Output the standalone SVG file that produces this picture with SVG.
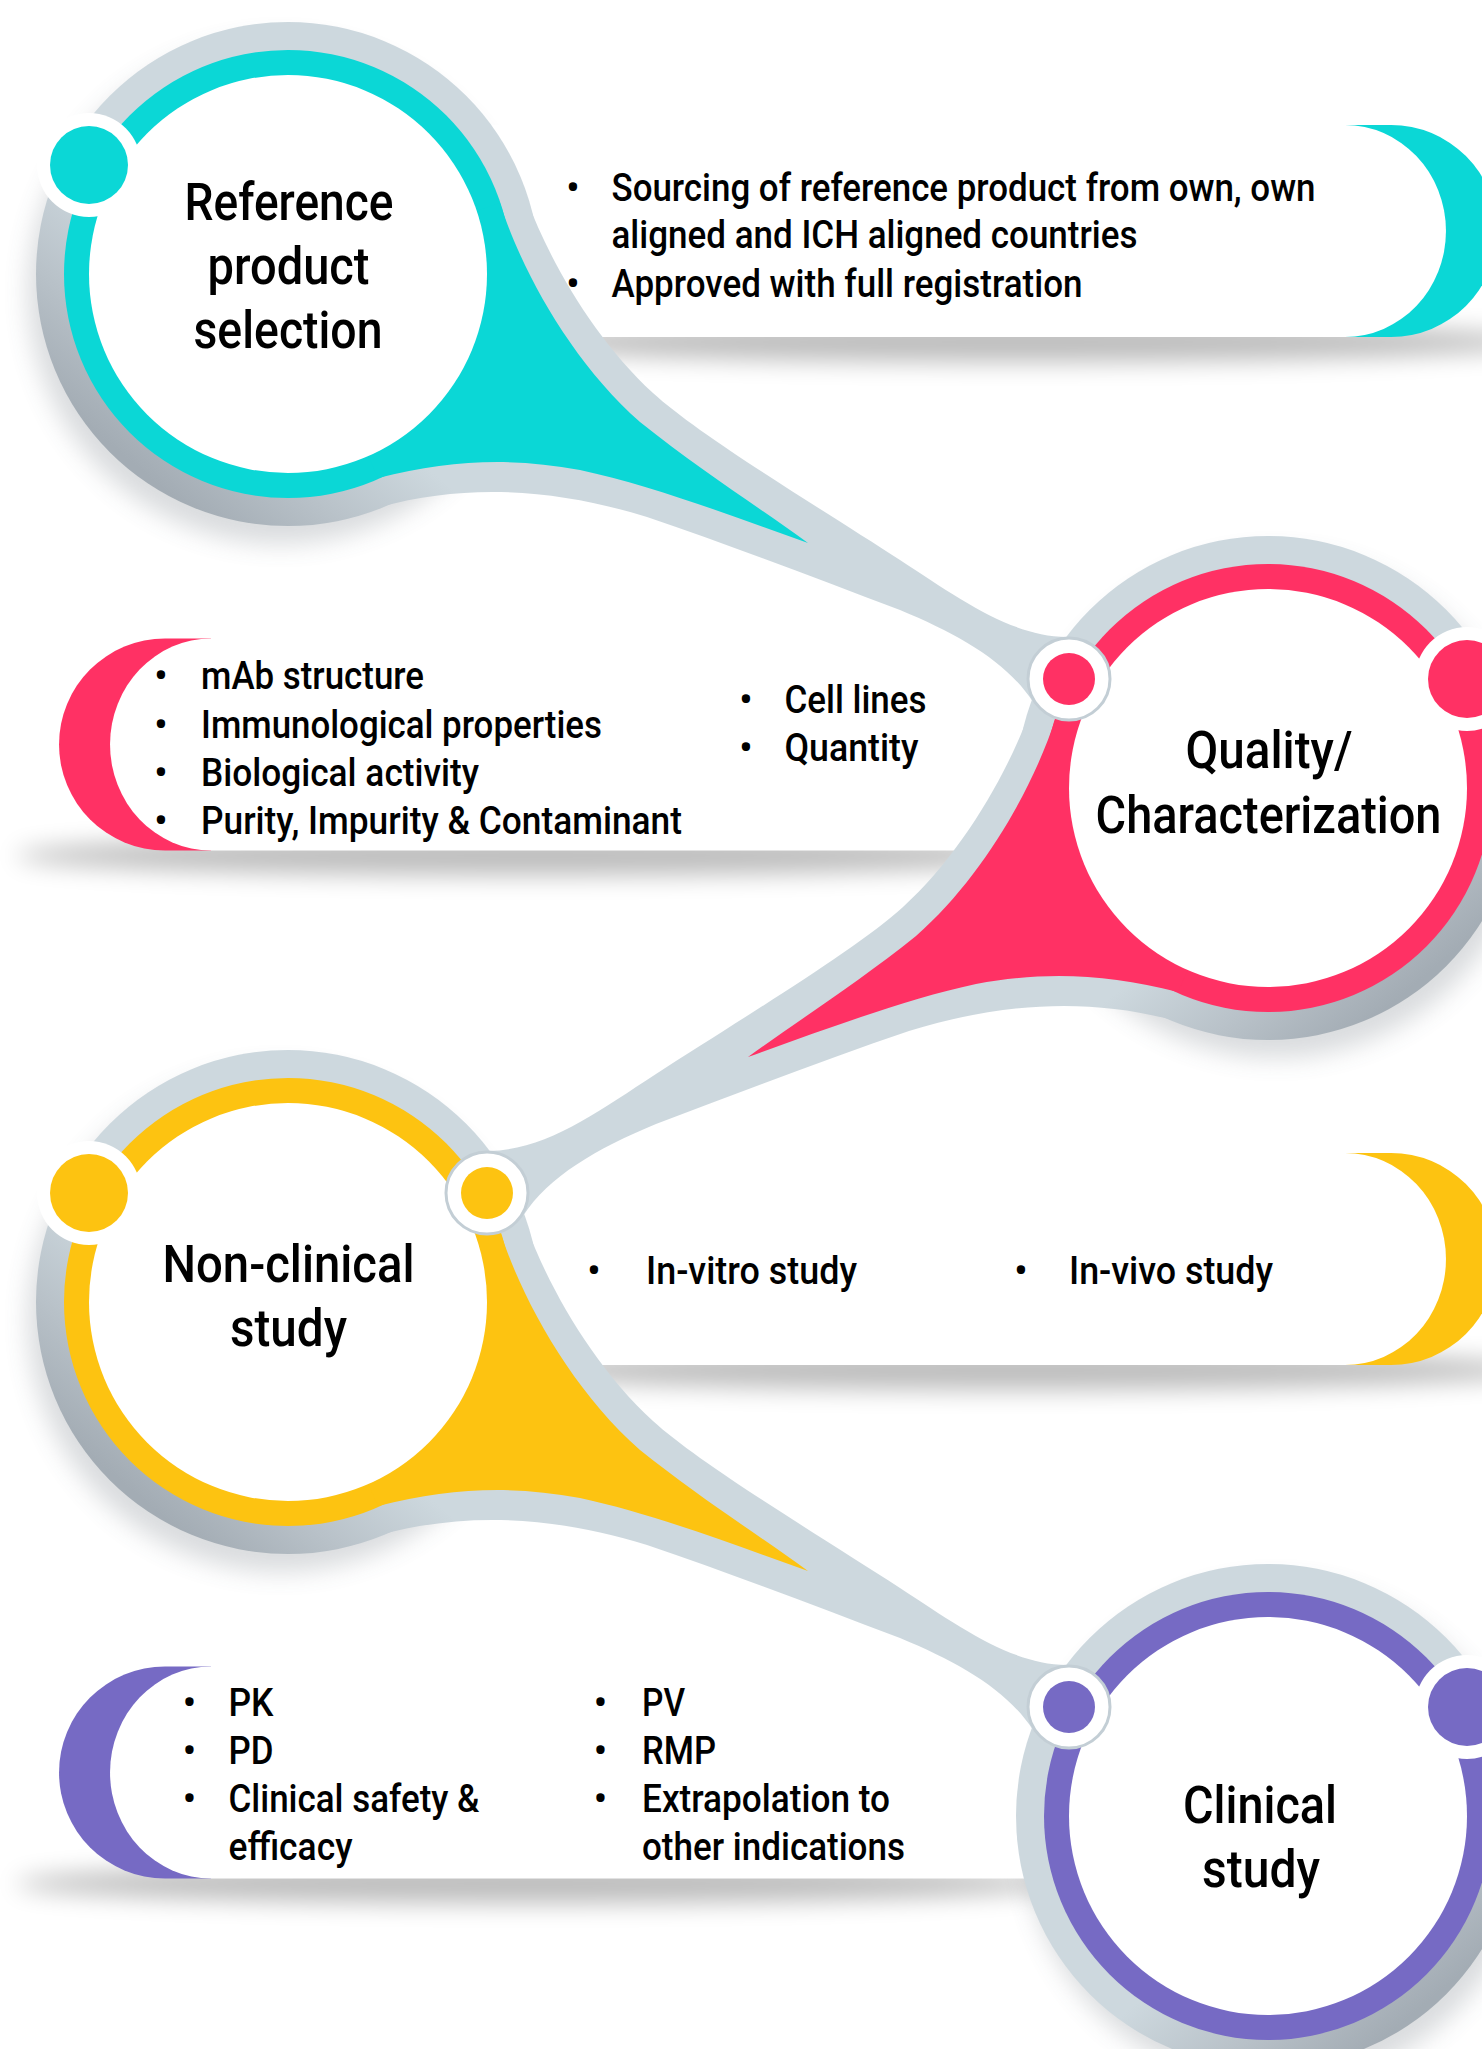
<svg xmlns="http://www.w3.org/2000/svg" width="1482" height="2049" viewBox="0 0 1482 2049">
<style>
text{font-family:Roboto,"Liberation Sans",Arial,sans-serif;fill:#000;font-weight:500}
.ttl{font-size:51px;text-anchor:middle}
.bl{font-size:38px}
.dot{font-size:38px;text-anchor:middle}
</style>
<defs>
<filter id="blurN" x="-30%" y="-30%" width="160%" height="160%"><feGaussianBlur stdDeviation="12"/></filter>
<filter id="blurP" x="-20%" y="-300%" width="140%" height="700%"><feGaussianBlur stdDeviation="12"/></filter>
<linearGradient id="ringGrad" gradientUnits="userSpaceOnUse" x1="200" y1="520" x2="360" y2="330">
<stop offset="0" stop-color="#a3acb4"/><stop offset="0.35" stop-color="#b8c1c8"/><stop offset="0.75" stop-color="#cdd8de"/>
</linearGradient>
<circle id="nshadow" cx="280" cy="292" r="252" fill="#56606a" opacity="0.22" filter="url(#blurN)"/>
<path id="grayTail" fill="url(#ringGrad)" d="M288,274 L527,200 C550,262 595,340 653,393 C700,436 820,508 900,560 C960,599 1010,636 1067,637 L1075,660 L1033,702 C1007,662 960,635 900,610 C815,578 730,545 647,517 C560,490 470,482 380,507 Z"/>
<path id="colorTail" fill="currentColor" d="M288,274 L500,203 C522,272 572,362 640,422 C700,470 760,508 808,543 C730,515 650,485 580,470 C510,457 450,460 378,478 Z"/>
<g id="disc"><circle cx="288" cy="274" r="252" fill="url(#ringGrad)"/><circle cx="288" cy="274" r="224" fill="currentColor"/></g>
<circle id="inner" cx="288" cy="274" r="199" fill="#fff"/>
<g id="odot"><circle cx="89" cy="165" r="52" fill="#fff"/><circle cx="89" cy="165" r="39" fill="currentColor"/></g>
<g id="jdot"><circle cx="487" cy="165" r="41" fill="#fff" stroke="#c3ced5" stroke-width="3"/><circle cx="487" cy="165" r="26" fill="currentColor"/></g>
<g id="panel">
<ellipse cx="1020" cy="342" rx="520" ry="20" fill="#000" opacity="0.26" filter="url(#blurP)"/>
<path d="M1345,125 L1391,125 A106,106 0 0 1 1391,337 L1345,337 Z" fill="currentColor"/>
<path d="M450,125 L1345,125 A101,106 0 0 1 1345,337 L450,337 Z" fill="#fff"/>
</g>
</defs>

<g id="shadows">
<use href="#nshadow"/>
<use href="#nshadow" transform="translate(1556,514) scale(-1,1)"/>
<use href="#nshadow" transform="translate(0,1028)"/>
<use href="#nshadow" transform="translate(1556,1542) scale(-1,1)"/>
</g>

<g id="panel1" style="color:#0bd7d6">
<use href="#panel"/>
<text class="dot" x="573" y="200.7">•</text>
<text class="bl" x="611.5" y="200.7" textLength="704" lengthAdjust="spacingAndGlyphs">Sourcing of reference product from own, own</text>
<text class="bl" x="611.5" y="248.3" textLength="526" lengthAdjust="spacingAndGlyphs">aligned and ICH aligned countries</text>
<text class="dot" x="573" y="296.7">•</text>
<text class="bl" x="611.5" y="296.7" textLength="471" lengthAdjust="spacingAndGlyphs">Approved with full registration</text>
</g>

<g id="panel2" style="color:#ff3164">
<use href="#panel" transform="translate(1556,513.5) scale(-1,1)"/>
<text class="dot" x="161" y="689.3">•</text>
<text class="bl" x="201" y="689.3" textLength="223" lengthAdjust="spacingAndGlyphs">mAb structure</text>
<text class="dot" x="161" y="737.5">•</text>
<text class="bl" x="201" y="737.5" textLength="401" lengthAdjust="spacingAndGlyphs">Immunological properties</text>
<text class="dot" x="161" y="785.7">•</text>
<text class="bl" x="201" y="785.7" textLength="278" lengthAdjust="spacingAndGlyphs">Biological activity</text>
<text class="dot" x="161" y="833.6">•</text>
<text class="bl" x="201" y="833.6" textLength="481" lengthAdjust="spacingAndGlyphs">Purity, Impurity &amp; Contaminant</text>
<text class="dot" x="746" y="713">•</text>
<text class="bl" x="784.5" y="713" textLength="142" lengthAdjust="spacingAndGlyphs">Cell lines</text>
<text class="dot" x="746" y="761">•</text>
<text class="bl" x="784.5" y="761" textLength="134" lengthAdjust="spacingAndGlyphs">Quantity</text>
</g>

<g id="panel3" style="color:#fdc311">
<use href="#panel" transform="translate(0,1028)"/>
<text class="dot" x="594" y="1283.5">•</text>
<text class="bl" x="646" y="1283.5" textLength="211" lengthAdjust="spacingAndGlyphs">In-vitro study</text>
<text class="dot" x="1021" y="1283.5">•</text>
<text class="bl" x="1069" y="1283.5" textLength="204" lengthAdjust="spacingAndGlyphs">In-vivo study</text>
</g>

<g id="panel4" style="color:#766ac4">
<use href="#panel" transform="translate(1556,1541.5) scale(-1,1)"/>
<text class="dot" x="189.5" y="1716">•</text>
<text class="bl" x="228.5" y="1716" textLength="45" lengthAdjust="spacingAndGlyphs">PK</text>
<text class="dot" x="189.5" y="1764">•</text>
<text class="bl" x="228.5" y="1764" textLength="45" lengthAdjust="spacingAndGlyphs">PD</text>
<text class="dot" x="189.5" y="1812">•</text>
<text class="bl" x="228.5" y="1812" textLength="251" lengthAdjust="spacingAndGlyphs">Clinical safety &amp;</text>
<text class="bl" x="228.5" y="1860" textLength="124" lengthAdjust="spacingAndGlyphs">efficacy</text>
<text class="dot" x="600.5" y="1716">•</text>
<text class="bl" x="642" y="1716" textLength="43" lengthAdjust="spacingAndGlyphs">PV</text>
<text class="dot" x="600.5" y="1764">•</text>
<text class="bl" x="642" y="1764" textLength="74" lengthAdjust="spacingAndGlyphs">RMP</text>
<text class="dot" x="600.5" y="1812">•</text>
<text class="bl" x="642" y="1812" textLength="248" lengthAdjust="spacingAndGlyphs">Extrapolation to</text>
<text class="bl" x="642" y="1860" textLength="263" lengthAdjust="spacingAndGlyphs">other indications</text>
</g>

<g id="connectors">
<use href="#grayTail"/>
<use href="#grayTail" transform="translate(1556,514) scale(-1,1)"/>
<use href="#grayTail" transform="translate(0,1028)"/>
</g>

<g id="node1" style="color:#0bd7d6">
<use href="#disc"/><use href="#colorTail"/><use href="#inner"/><use href="#odot"/>
<text class="ttl" x="289" y="219.6" textLength="209" lengthAdjust="spacingAndGlyphs">Reference</text>
<text class="ttl" x="288.5" y="284" textLength="162" lengthAdjust="spacingAndGlyphs">product</text>
<text class="ttl" x="288" y="348" textLength="189" lengthAdjust="spacingAndGlyphs">selection</text>
</g>

<g id="node2" style="color:#ff3164">
<g transform="translate(1556,514) scale(-1,1)"><use href="#disc"/><use href="#colorTail"/><use href="#inner"/><use href="#odot"/><use href="#jdot"/></g>
<text class="ttl" x="1269" y="768" textLength="167" lengthAdjust="spacingAndGlyphs">Quality/</text>
<text class="ttl" x="1268.5" y="832.5" textLength="346" lengthAdjust="spacingAndGlyphs">Characterization</text>
</g>

<g id="node3" style="color:#fdc311">
<g transform="translate(0,1028)"><use href="#disc"/><use href="#colorTail"/><use href="#inner"/><use href="#odot"/><use href="#jdot"/></g>
<text class="ttl" x="288.5" y="1282" textLength="252" lengthAdjust="spacingAndGlyphs">Non-clinical</text>
<text class="ttl" x="288.5" y="1346" textLength="117" lengthAdjust="spacingAndGlyphs">study</text>
</g>

<g id="node4" style="color:#766ac4">
<g transform="translate(1556,1542) scale(-1,1)"><use href="#disc"/><use href="#inner"/><use href="#odot"/><use href="#jdot"/></g>
<text class="ttl" x="1260" y="1823.3" textLength="154" lengthAdjust="spacingAndGlyphs">Clinical</text>
<text class="ttl" x="1261" y="1886.7" textLength="118" lengthAdjust="spacingAndGlyphs">study</text>
</g>
</svg>
